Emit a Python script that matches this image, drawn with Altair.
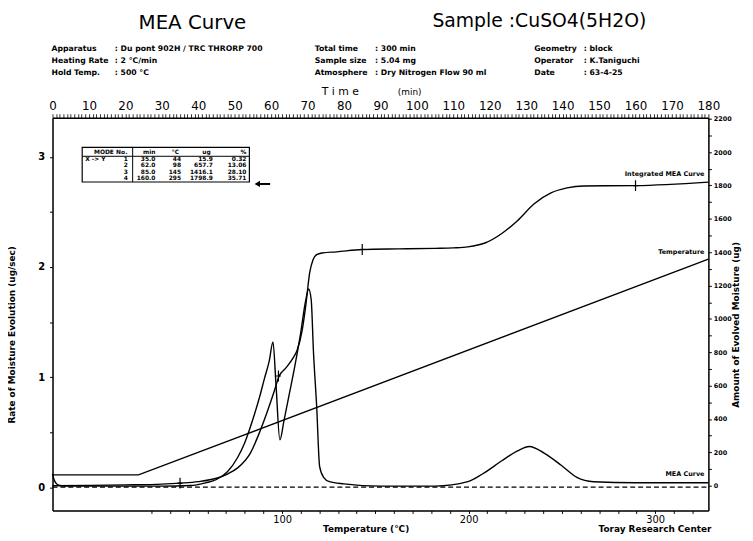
import altair as alt
import pandas as pd

# ---------------- data ----------------
# MEA curve: rate of moisture evolution (ug/sec) vs time (min)
mea_t = [0, 0.4, 1, 2, 4, 10, 20, 30, 38, 42, 45, 48, 50.8, 52.7, 55.4, 57, 58.1, 59.5, 60.5, 61.3,
         62.4, 63.5, 65, 66.5, 68, 69.5, 70.3, 71, 71.6, 72.5, 73.3, 74.4, 76, 80, 90,
         105, 114, 118, 123.3, 127.6, 130.9, 134.9, 139.6, 143.9, 148.5, 160, 180]
mea_rate = [0.12, 0.07, 0.035, 0.015, 0.01, 0.01, 0.01, 0.01, 0.015, 0.04, 0.07, 0.14, 0.27, 0.4, 0.66, 0.84, 0.98, 1.15, 1.32, 0.95,
            0.43, 0.6, 0.85, 1.1, 1.38, 1.7, 1.8, 1.7, 1.24, 0.73, 0.19, 0.09, 0.05, 0.03, 0.01,
            0.01, 0.05, 0.12, 0.24, 0.33, 0.37, 0.31, 0.2, 0.09, 0.05, 0.04, 0.04]

# Integrated MEA curve: amount of evolved moisture (ug) vs time (min)
int_t = [0, 10, 20, 30, 35, 40, 45, 48, 50.8, 54.3, 57, 60.8, 62.2, 64, 66, 67.1, 68.5, 69.5, 70.6, 71.5,
         72.5, 74, 78, 85, 95, 105, 110, 114, 118.7, 123.3, 127.6, 132.2, 136.8, 141.2, 145.8, 160, 180]
int_ug = [0, 2, 5, 10, 16, 25, 45, 70, 107, 196, 330, 563, 658, 705, 765, 810, 930, 1080, 1280, 1355,
          1385, 1395, 1402, 1416, 1420, 1423, 1426, 1432, 1455, 1512, 1589, 1690, 1755, 1785, 1797, 1799, 1820]

# Temperature trace (drawn on the right-hand scale)
temp_t = [0, 23.6, 180]
temp_ug = [65, 65, 1358]

# integration markers
mark_t = [35, 62, 85, 160]
mark_ug = [15.9, 657.7, 1416.1, 1798.9]

# result table
table_no = ["1", "2", "3", "4"]
table_min = ["35.0", "62.0", "85.0", "160.0"]
table_deg = ["44", "98", "145", "295"]
table_ug = ["15.9", "657.7", "1416.1", "1798.9"]
table_pct = ["0.32", "13.06", "28.10", "35.71"]

# ---------------- chart ----------------
FONT = "DejaVu Sans"
W, H = 663, 397

xs = alt.Scale(domain=[0, 180], nice=False, zero=False)
ls = alt.Scale(domain=[-0.211, 3.356], nice=False, zero=False)
rs = alt.Scale(domain=[-148, 2206], nice=False, zero=False)

mea_df = pd.DataFrame({"t": mea_t, "v": mea_rate})
int_df = pd.DataFrame({"t": int_t, "v": int_ug})
temp_df = pd.DataFrame({"t": temp_t, "v": temp_ug})
mark_df = pd.DataFrame({"t": mark_t, "v": mark_ug})
base_df = pd.DataFrame({"t": [0, 180], "v": [0, 0]})

common_axis = dict(domainColor="black", domainWidth=1.5, tickColor="black", labelColor="black",
                   labelFont=FONT, grid=False, labelOverlap=False, labelBound=False, labelFlush=False)

top_axis = alt.Axis(orient="top", values=list(range(0, 181)),
                    labelExpr="datum.value % 10 == 0 ? datum.value : ''",
                    tickSize=4, tickWidth=0.8, labelFontSize=12, labelPadding=1, title=None, **common_axis)

temp_tick_t = [63.0 + (T - 100) * 0.512 for T in range(30, 331, 10)]
bottom_axis = alt.Axis(orient="bottom", values=temp_tick_t,
                       labelExpr="(round((datum.value - 63) / 0.512) + 100) % 100 == 0 ? '' + (round((datum.value - 63) / 0.512) + 100) : ''",
                       tickSize=3, tickWidth=1, labelFontSize=10, labelPadding=1, title=None, **common_axis)

left_axis = alt.Axis(orient="left", values=[0, 0.5, 1, 1.5, 2, 2.5, 3],
                     labelExpr="datum.value % 1 == 0 ? datum.value : ''",
                     tickSize=3, tickWidth=1, labelFontSize=10, labelFontWeight="bold", labelPadding=5,
                     title="Rate of Moisture Evolution (ug/sec)", titleFont=FONT, titleFontSize=9,
                     titleFontWeight="bold", titleColor="black", titleX=-41, titleY=219, titleAngle=270,
                     titleAlign="center", titleBaseline="middle", **common_axis)

right_axis = alt.Axis(orient="right", values=list(range(0, 2201, 100)),
                      labelExpr="datum.value % 200 == 0 ? datum.value : ''",
                      tickSize=3, tickWidth=1, labelFontSize=6.5, labelFontWeight="bold", labelPadding=2,
                      title="Amount of Evolved Moisture (ug)", titleFont=FONT, titleFontSize=9,
                      titleFontWeight="bold", titleColor="black", titleX=27, titleY=209, titleAngle=270,
                      titleAlign="center", titleBaseline="middle", **common_axis)

baseline = alt.Chart(base_df).mark_line(color="black", strokeWidth=1.2, strokeDash=[5, 3]).encode(
    x=alt.X("t:Q", scale=xs, axis=bottom_axis),
    y=alt.Y("v:Q", scale=ls, axis=None))

mea = alt.Chart(mea_df).mark_line(color="black", strokeWidth=1.4, interpolate="monotone").encode(
    x=alt.X("t:Q", scale=xs, axis=top_axis),
    y=alt.Y("v:Q", scale=ls, axis=left_axis))

integ = alt.Chart(int_df).mark_line(color="black", strokeWidth=1.4, interpolate="monotone").encode(
    x=alt.X("t:Q", scale=xs, axis=None),
    y=alt.Y("v:Q", scale=rs, axis=right_axis))

temp = alt.Chart(temp_df).mark_line(color="black", strokeWidth=1.4).encode(
    x=alt.X("t:Q", scale=xs, axis=None),
    y=alt.Y("v:Q", scale=rs, axis=None))

marks = alt.Chart(mark_df).mark_point(shape="M0,-1L0,1M-0.45,0L0.45,0", size=120, filled=False,
                                      stroke="black", strokeWidth=1.2, opacity=1).encode(
    x=alt.X("t:Q", scale=xs, axis=None),
    y=alt.Y("v:Q", scale=rs, axis=None))

dummy = pd.DataFrame({"k": [0]})


def label(text, x, y, size, weight="normal", align="left"):
    return alt.Chart(dummy).mark_text(text=text, align=align, baseline="middle", fontSize=size,
                                      fontWeight=weight, font=FONT, color="black").encode(
        x=alt.value(x), y=alt.value(y))


HS = 7.8  # header info font size
texts = [
    label("MEA Curve", 87, -96, 20),
    label("Sample :CuSO4(5H2O)", 384, -98, 19),
    label("Apparatus", -1, -69, HS, "bold"),
    label(": Du pont 902H / TRC THRORP 700", 63, -69, HS, "bold"),
    label("Heating Rate", -1, -57, HS, "bold"),
    label(": 2 °C/min", 63, -57, HS, "bold"),
    label("Hold Temp.", -1, -45, HS, "bold"),
    label(": 500 °C", 63, -45, HS, "bold"),
    label("Total time", 265, -69, HS, "bold"),
    label(": 300 min", 326, -69, HS, "bold"),
    label("Sample size", 265, -57, HS, "bold"),
    label(": 5.04 mg", 326, -57, HS, "bold"),
    label("Atmosphere", 265, -45, HS, "bold"),
    label(": Dry Nitrogen Flow 90 ml", 326, -45, HS, "bold"),
    label("Geometry", 487, -69, HS, "bold"),
    label(": block", 537, -69, HS, "bold"),
    label("Operator", 487, -57, HS, "bold"),
    label(": K.Taniguchi", 537, -57, HS, "bold"),
    label("Date", 487, -45, HS, "bold"),
    label(": 63-4-25", 537, -45, HS, "bold"),
    label("T i m e", 291, -26, 11, align="center"),
    label("(min)", 361, -26, 9, align="center"),
    label("Temperature   (°C)", 317, 416, 9, "bold", "center"),
    label("Toray Research Center", 609, 416, 9, "bold", "center"),
    label("Integrated MEA Curve", 659, 57, 6.5, "bold", "right"),
    label("Temperature", 659, 136, 6.5, "bold", "right"),
    label("MEA Curve", 659, 360, 6.5, "bold", "right"),
    # table header
    label("MODE", 52, 35, 6, "bold", "center"),
    label("No.", 70, 35, 6, "bold", "center"),
    label("min", 104, 35, 6, "bold", "right"),
    label("°C", 128, 35, 6, "bold", "right"),
    label("ug", 160, 35, 6, "bold", "right"),
    label("%", 196, 35, 6, "bold", "right"),
    label("X -> Y", 33, 42, 6, "bold"),
]

# table box and rules
box = alt.Chart(dummy).mark_rect(fill=None, stroke="black", strokeWidth=1.2).encode(
    x=alt.value(30), x2=alt.value(199), y=alt.value(30), y2=alt.value(65))
hrule = alt.Chart(dummy).mark_rule(color="black", strokeWidth=1).encode(
    x=alt.value(30), x2=alt.value(199), y=alt.value(39))
vrule = alt.Chart(dummy).mark_rule(color="black", strokeWidth=1).encode(
    x=alt.value(81), y=alt.value(30), y2=alt.value(65))
arrow_line = alt.Chart(dummy).mark_rule(color="black", strokeWidth=2).encode(
    x=alt.value(209), x2=alt.value(220), y=alt.value(67))
arrow_head = alt.Chart(dummy).mark_point(shape="triangle-left", size=40, filled=True, color="black",
                                         opacity=1).encode(x=alt.value(207), y=alt.value(67))

row_scale = alt.Scale(type="point", domain=[1, 2, 3, 4], range=[42, 61], padding=0)
table_layers = []
for vals, xpos, al in [(table_no, 74, "center"), (table_min, 104, "right"), (table_deg, 130, "right"),
                       (table_ug, 162, "right"), (table_pct, 196, "right")]:
    df = pd.DataFrame({"row": [1, 2, 3, 4], "s": vals})
    table_layers.append(
        alt.Chart(df).mark_text(align=al, baseline="middle", fontSize=6, fontWeight="bold", font=FONT,
                                color="black").encode(
            x=alt.value(xpos), y=alt.Y("row:O", scale=row_scale, axis=None), text="s:N"))

chart = alt.layer(
    baseline, mea, integ, temp, marks, box, hrule, vrule, arrow_line, arrow_head,
    *table_layers, *texts
).resolve_scale(y="independent").resolve_axis(x="independent", y="independent").properties(
    width=W, height=H,
    autosize=alt.AutoSizeParams(type="none"),
    padding={"left": 45, "top": 108, "right": 37, "bottom": 28},
).configure_view(stroke=None).configure(background="white")

chart.save("out.html", embed_options={"renderer": "svg", "actions": False})
